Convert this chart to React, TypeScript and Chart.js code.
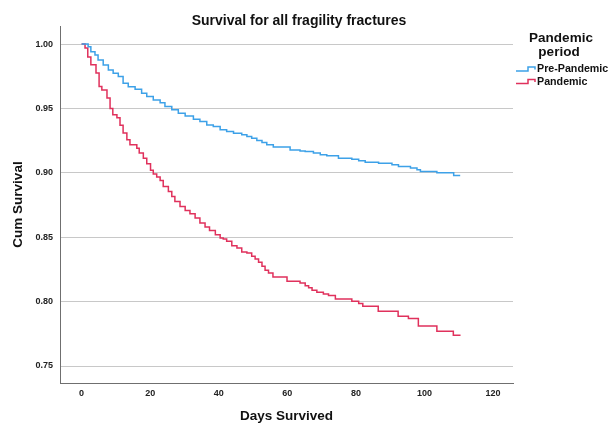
import React, { useEffect, useRef } from 'react';
import { Chart, registerables } from 'chart.js';

Chart.register(...registerables);

const chartTitle = 'Survival for all fragility fractures';
const legendTitle = ['Pandemic', 'period'];
const seriesLabels = ['Pre-Pandemic', 'Pandemic'];
const xAxisTitle = 'Days Survived';
const yAxisTitle = 'Cum Survival';
const xTicks = [0, 20, 40, 60, 80, 100, 120];
const yTicks = [0.75, 0.8, 0.85, 0.9, 0.95, 1.0];

const prePandemicDays = [
  0, 1.9, 2.7, 3.9, 4.8, 6.3, 7.8, 9.2, 10.7, 12.1, 13.6, 15.6, 17.5, 19.0, 20.9, 22.9, 24.3, 26.3,
  28.2, 30.2, 32.6, 34.5, 36.5, 38.4, 40.4, 42.3, 44.3, 46.7, 48.2, 49.6, 51.1, 52.6, 54.0, 55.9,
  60.8, 63.7, 65.2, 67.6, 69.6, 71.5, 74.9, 78.8, 80.8, 82.7, 86.6, 90.5, 92.4, 95.9, 97.8, 98.8,
  103.6, 108.5, 110.4,
];
const prePandemicSurvival = [
  1.0, 0.9979, 0.994, 0.9915, 0.9876, 0.9837, 0.9798, 0.9773, 0.9747, 0.9695, 0.9669, 0.9649,
  0.9618, 0.9592, 0.9566, 0.9545, 0.9514, 0.9489, 0.9463, 0.9442, 0.9416, 0.9398, 0.9372, 0.9359,
  0.9334, 0.932, 0.9308, 0.9295, 0.9282, 0.9269, 0.925, 0.9235, 0.9217, 0.92, 0.9178, 0.917,
  0.9165, 0.9153, 0.914, 0.9132, 0.9114, 0.9106, 0.9093, 0.9083, 0.9075, 0.9062, 0.9049, 0.9037,
  0.9024, 0.901, 0.9, 0.898, 0.898,
];

const pandemicDays = [
  0, 1.0, 1.8, 2.7, 4.2, 5.1, 5.9, 7.4, 8.3, 9.1, 10.3, 11.2, 12.1, 13.2, 14.1, 16.1, 16.8, 18.0,
  19.0, 20.1, 20.9, 21.9, 22.9, 23.8, 25.3, 26.3, 27.2, 28.7, 30.2, 31.6, 33.1, 34.5, 36.0, 37.3,
  39.0, 40.4, 41.3, 42.3, 43.8, 45.3, 46.7, 48.2, 49.6, 50.6, 51.6, 52.6, 53.5, 54.5, 55.8, 59.9,
  63.7, 65.2, 66.2, 67.2, 68.6, 70.5, 72.0, 74.0, 78.8, 80.8, 82.0, 86.5, 92.3, 95.3, 98.2, 103.6,
  108.4, 110.5,
];
const pandemicSurvival = [
  1.0, 0.997, 0.99, 0.984, 0.9775, 0.967, 0.9644, 0.958, 0.95, 0.945, 0.9427, 0.937, 0.931, 0.9256,
  0.9217, 0.919, 0.9153, 0.9114, 0.907, 0.902, 0.899, 0.8967, 0.894, 0.8894, 0.8855, 0.8817,
  0.8778, 0.8739, 0.8708, 0.8683, 0.8649, 0.861, 0.858, 0.8553, 0.852, 0.8494, 0.8486, 0.8468,
  0.8434, 0.8417, 0.8386, 0.8378, 0.8352, 0.8331, 0.8305, 0.8274, 0.8243, 0.8223, 0.8192, 0.8158,
  0.8145, 0.8124, 0.8107, 0.8088, 0.8073, 0.806, 0.8047, 0.802, 0.8003, 0.7985, 0.7964, 0.7925,
  0.7887, 0.7869, 0.781, 0.777, 0.7738, 0.7738,
];

const seriesColors = ['#3DA1E8', '#E0315C'];
const FONT = '"Liberation Sans", Arial, sans-serif';

const toPoints = (xs: number[], ys: number[]) => xs.map((x, i) => ({ x, y: ys[i] }));

const overlayPlugin = {
  id: 'overlay',
  afterDraw(chart: any) {
    const ctx = chart.ctx as CanvasRenderingContext2D;
    ctx.save();
    ctx.fillStyle = '#111';
    ctx.textBaseline = 'middle';
    ctx.textAlign = 'center';
    ctx.font = `bold 14px ${FONT}`;
    ctx.fillText(chartTitle, 299, 21);
    ctx.font = `bold 13.5px ${FONT}`;
    ctx.fillText(legendTitle[0], 561, 38);
    ctx.fillText(legendTitle[1], 559, 52);
    ctx.textAlign = 'left';
    ctx.font = `bold 10.7px ${FONT}`;
    chart.data.datasets.forEach((ds: any, i: number) => {
      const y = 69.5 + i * 12.4;
      ctx.strokeStyle = ds.borderColor;
      ctx.lineWidth = 1.5;
      ctx.beginPath();
      ctx.moveTo(516, y + 1.5);
      ctx.lineTo(528, y + 1.5);
      ctx.lineTo(528, y - 2.5);
      ctx.lineTo(535, y - 2.5);
      ctx.lineTo(535, y);
      ctx.stroke();
      ctx.fillStyle = '#111';
      ctx.fillText(ds.label, 537, y);
    });
    ctx.restore();
  },
};

export default function App() {
  const canvasRef = useRef<HTMLCanvasElement | null>(null);

  useEffect(() => {
    document.body.style.margin = '0';
    const canvas = canvasRef.current;
    if (!canvas) return;
    const chart = new Chart(canvas, {
      type: 'line',
      data: {
        datasets: [
          {
            label: seriesLabels[0],
            data: toPoints(prePandemicDays, prePandemicSurvival),
            borderColor: seriesColors[0],
            backgroundColor: seriesColors[0],
            borderWidth: 1.5,
            pointRadius: 0,
            stepped: 'before',
            fill: false,
          },
          {
            label: seriesLabels[1],
            data: toPoints(pandemicDays, pandemicSurvival),
            borderColor: seriesColors[1],
            backgroundColor: seriesColors[1],
            borderWidth: 1.5,
            pointRadius: 0,
            stepped: 'before',
            fill: false,
          },
        ],
      },
      options: {
        animation: false,
        responsive: false,
        devicePixelRatio: 1,
        layout: { padding: { left: 8, top: 26, right: 98, bottom: 0 } },
        plugins: {
          legend: { display: false },
          title: { display: false },
          tooltip: { enabled: false },
        },
        scales: {
          x: {
            type: 'linear',
            min: -6.3,
            max: 125.8,
            afterBuildTicks: (s: any) => {
              s.ticks = xTicks.map((v) => ({ value: v }));
            },
            afterFit: (s: any) => {
              s.height = 40;
            },
            grid: { display: false, drawTicks: false },
            border: { display: true, color: '#6f6f6f', width: 1 },
            ticks: {
              color: '#222',
              font: { family: FONT, size: 9, weight: 'bold' },
              padding: 5,
              maxRotation: 0,
              autoSkip: false,
              callback: (v: any) => String(v),
            },
            title: {
              display: true,
              text: xAxisTitle,
              color: '#111',
              font: { family: FONT, size: 13.5, weight: 'bold', lineHeight: 1 },
              padding: { top: 0, bottom: 0 },
            },
          },
          y: {
            type: 'linear',
            min: 0.7368,
            max: 1.014,
            afterBuildTicks: (s: any) => {
              s.ticks = yTicks.map((v) => ({ value: v }));
            },
            afterFit: (s: any) => {
              s.width = 52;
            },
            grid: { color: '#c8c8c8', lineWidth: 1, drawTicks: false },
            border: { display: true, color: '#6f6f6f', width: 1 },
            ticks: {
              color: '#222',
              font: { family: FONT, size: 9, weight: 'bold' },
              padding: 7,
              autoSkip: false,
              callback: (v: any) => Number(v).toFixed(2),
            },
            title: {
              display: true,
              text: yAxisTitle,
              color: '#111',
              font: { family: FONT, size: 13.5, weight: 'bold', lineHeight: 1.2 },
              padding: { top: 2.4, bottom: 0 },
            },
          },
        },
      },
      plugins: [overlayPlugin],
    });
    return () => chart.destroy();
  }, []);

  return (
    <div style={{ width: 611, height: 423, background: '#fff' }}>
      <canvas ref={canvasRef} width={611} height={423} style={{ display: 'block' }} />
    </div>
  );
}
